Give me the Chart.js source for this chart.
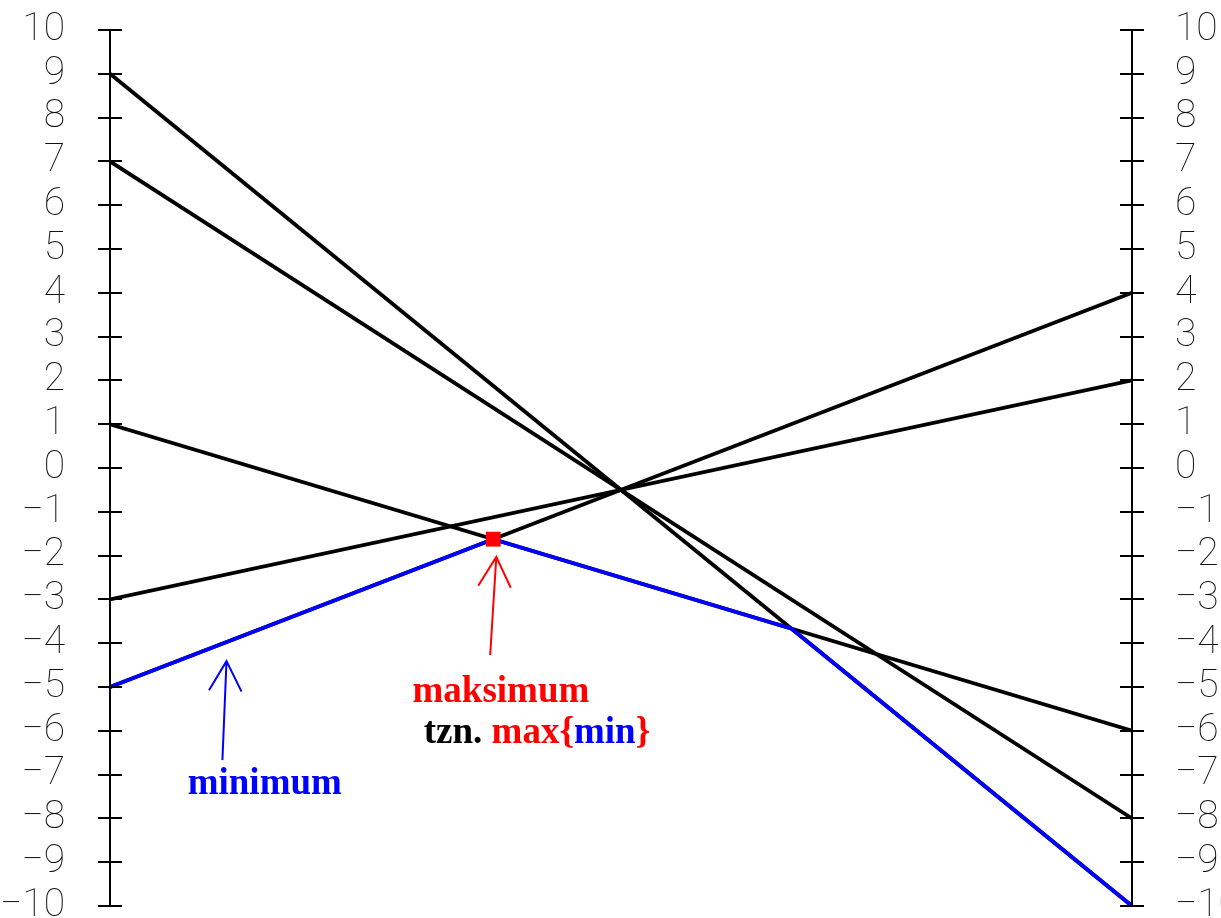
<!DOCTYPE html>
<html>
<head>
<meta charset="utf-8">
<style>
  html, body { margin: 0; padding: 0; background: #ffffff; }
  #wrap { width: 1221px; height: 918px; position: relative; overflow: hidden; }
</style>
<script src="https://cdn.jsdelivr.net/npm/chart.js@4/dist/chart.umd.min.js"></script>
</head>
<body>
<div id="wrap"><canvas id="c" width="1221" height="918"></canvas></div>
<script>
// Values at the left axis and at the right axis for each straight line.
const leftValues  = [9, 7, 1, -3, -5];
const rightValues = [-10, -8, -6, 2, 4];

// Lower envelope (minimum of all lines) across the interval.
const minimumX = [0, 0.375, 0.667, 1];
const minimumY = [-5, -1.625, -3.67, -10];

// Highest point of the lower envelope.
const maxOfMinX = [0.375];
const maxOfMinY = [-1.625];

// Axis tick values.
const tickValues = [-10, -9, -8, -7, -6, -5, -4, -3, -2, -1, 0, 1, 2, 3, 4, 5, 6, 7, 8, 9, 10];

const lineDatasets = leftValues.map((v, i) => ({
  data: [{ x: 0, y: v }, { x: 1, y: rightValues[i] }],
  borderColor: '#000000',
  borderWidth: 3.8,
  pointRadius: 0,
  yAxisID: 'y',
  order: 3
}));

const envelopeDataset = {
  data: minimumX.map((x, i) => ({ x, y: minimumY[i] })),
  borderColor: '#0000ff',
  borderWidth: 3.8,
  pointRadius: 0,
  yAxisID: 'y',
  order: 2
};

const peakDataset = {
  data: maxOfMinX.map((x, i) => ({ x, y: maxOfMinY[i] })),
  showLine: false,
  pointStyle: 'rect',
  pointRadius: 10.5,
  backgroundColor: '#ff0000',
  borderColor: '#ff0000',
  borderWidth: 0,
  yAxisID: 'y',
  order: 1
};

// Axis lines with cross tick marks, on both sides.
const crossAxes = {
  id: 'crossAxes',
  afterDatasetsDraw(chart) {
    const ctx = chart.ctx;
    const area = chart.chartArea;
    ctx.save();
    ctx.strokeStyle = '#000000';
    ctx.lineWidth = 2;
    ['y', 'y2'].forEach(id => {
      const s = chart.scales[id];
      const x = id === 'y' ? area.left : area.right;
      ctx.beginPath();
      ctx.moveTo(x, s.getPixelForValue(10));
      ctx.lineTo(x, s.getPixelForValue(-10));
      s.ticks.forEach(t => {
        const py = Math.round(s.getPixelForValue(t.value));
        ctx.moveTo(x - 12, py);
        ctx.lineTo(x + 12, py);
      });
      ctx.stroke();
    });
    ctx.restore();
  }
};

// Arrows and captions pointing at the envelope.
const notes = {
  id: 'notes',
  afterDraw(chart) {
    const ctx = chart.ctx;
    const xs = chart.scales.x, ys = chart.scales.y;
    const px = v => xs.getPixelForValue(v);
    const py = v => ys.getPixelForValue(v);

    function arrow(x0, y0, x1, y1, color) {
      const ax = px(x0), ay = py(y0), bx = px(x1), by = py(y1);
      const ang = Math.atan2(by - ay, bx - ax);
      const len = 34, spread = 0.5;
      ctx.save();
      ctx.strokeStyle = color;
      ctx.lineWidth = 2;
      ctx.beginPath();
      ctx.moveTo(ax, ay);
      ctx.lineTo(bx, by);
      ctx.moveTo(bx - len * Math.cos(ang - spread), by - len * Math.sin(ang - spread));
      ctx.lineTo(bx, by);
      ctx.lineTo(bx - len * Math.cos(ang + spread), by - len * Math.sin(ang + spread));
      ctx.stroke();
      ctx.restore();
    }

    function runs(x, y, parts) {
      ctx.save();
      ctx.font = 'bold 37px "Liberation Serif", "Times New Roman", serif';
      ctx.textBaseline = 'alphabetic';
      ctx.textAlign = 'left';
      let cx = px(x);
      const cy = py(y);
      parts.forEach(([text, color]) => {
        ctx.fillStyle = color;
        ctx.fillText(text, cx, cy);
        cx += ctx.measureText(text).width;
      });
      ctx.restore();
    }

    arrow(0.372, -4.27, 0.378, -2.03, '#ff0000');
    arrow(0.110, -6.67, 0.114, -4.41, '#0000ff');

    runs(0.296, -5.34, [['maksimum', '#ff0000']]);
    runs(0.307, -6.28, [['tzn. ', '#000000'], ['max{', '#ff0000'], ['min', '#0000ff'], ['}', '#ff0000']]);
    runs(0.076, -7.45, [['minimum', '#0000ff']]);
  }
};

const tickFont = { family: 'Roboto, "Liberation Sans Narrow", "Liberation Sans", sans-serif', size: 39, weight: '100' };
const tickLabel = v => (v < 0 ? '\u2212' + Math.abs(v) : String(v));

// Fixed axis widths; tick labels may overhang the plot edges.
function fixWidth(w) {
  return s => { s.width = w; s.paddingTop = 0; s.paddingBottom = 0; };
}

new Chart(document.getElementById('c'), {
  type: 'line',
  data: { datasets: [peakDataset, envelopeDataset, ...lineDatasets] },
  options: {
    responsive: false,
    animation: false,
    events: [],
    layout: { padding: { top: 30, bottom: 12, left: 0, right: 0 } },
    plugins: { legend: { display: false }, tooltip: { enabled: false } },
    elements: { line: { tension: 0 } },
    scales: {
      x: { type: 'linear', min: 0, max: 1, display: false },
      y: {
        position: 'left', min: -10, max: 10,
        afterBuildTicks: s => { s.ticks = tickValues.map(v => ({ value: v })); },
        afterFit: fixWidth(110),
        grid: { display: false },
        border: { display: false },
        ticks: { padding: 37, color: '#111111', font: tickFont, autoSkip: false, callback: tickLabel }
      },
      y2: {
        position: 'right', min: -10, max: 10,
        afterBuildTicks: s => { s.ticks = tickValues.map(v => ({ value: v })); },
        afterFit: fixWidth(89),
        grid: { display: false },
        border: { display: false },
        ticks: { padding: 35, color: '#111111', font: tickFont, autoSkip: false, callback: tickLabel }
      }
    }
  },
  plugins: [crossAxes, notes]
});
</script>
</body>
</html>
